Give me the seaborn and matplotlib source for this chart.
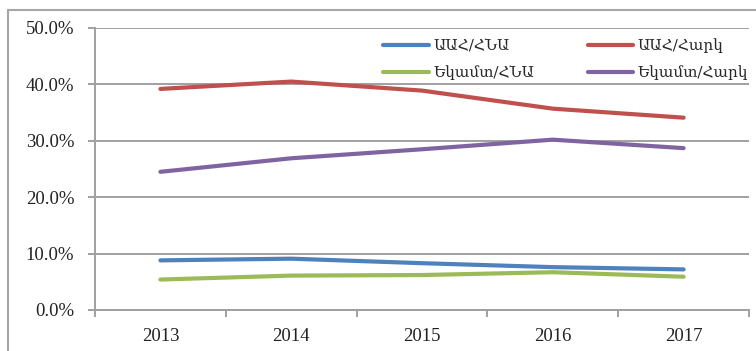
import matplotlib
matplotlib.use("Agg")
import matplotlib.pyplot as plt
from matplotlib.lines import Line2D
from matplotlib.ticker import FixedLocator, PercentFormatter
import seaborn as sns
import pandas as pd

years = ["2013", "2014", "2015", "2016", "2017"]
series_names = ["ԱԱՀ/ՀՆԱ", "ԱԱՀ/Հարկ", "Եկամտ/ՀՆԱ", "Եկամտ/Հարկ"]
vat_gdp = [8.8, 9.1, 8.3, 7.6, 7.2]
vat_tax = [39.2, 40.5, 38.9, 35.7, 34.1]
income_gdp = [5.4, 6.1, 6.2, 6.7, 5.9]
income_tax = [24.5, 26.9, 28.5, 30.2, 28.7]
colors = ["#4F81BD", "#C0504D", "#9BBB59", "#8064A2"]

rows = []
for name, vals in zip(series_names, [vat_gdp, vat_tax, income_gdp, income_tax]):
    for i, (yr, v) in enumerate(zip(years, vals)):
        rows.append({"pos": i, "year": yr, "value": v, "series": name})
df = pd.DataFrame(rows)

sns.set_theme(style="white")
plt.rcParams["font.family"] = ["Liberation Serif", "DejaVu Serif"]

fig = plt.figure(figsize=(7.56, 3.51), dpi=100)
ax = fig.add_axes([95 / 756, 41 / 351, 654 / 756, 282 / 351])

sns.lineplot(data=df, x="pos", y="value", hue="series", hue_order=series_names,
             palette=colors, linewidth=3.0, ax=ax, legend=True,
             solid_capstyle="round")

grid_c = "#A0A0A0"
ax.set_xlim(-0.5, 4.5)
ax.set_ylim(0, 50)
ax.yaxis.set_major_locator(FixedLocator([0, 10, 20, 30, 40, 50]))
ax.yaxis.set_major_formatter(PercentFormatter(decimals=1))
ax.set_xticks(range(len(years)))
ax.set_xticklabels(years)
ax.set_xticks([i - 0.5 for i in range(len(years) + 1)], minor=True)
ax.set_xlabel("")
ax.set_ylabel("")

ax.grid(axis="y", color=grid_c, linewidth=1.4)
ax.set_axisbelow(True)
for side in ["top", "right"]:
    ax.spines[side].set_visible(False)
for side in ["left", "bottom"]:
    ax.spines[side].set_color(grid_c)
    ax.spines[side].set_linewidth(1.4)

ax.tick_params(axis="y", which="major", length=5, width=1.4, color=grid_c,
               direction="out", left=True, pad=10, labelsize=13.5, labelcolor="#222222")
ax.tick_params(axis="x", which="major", length=0, pad=13, labelsize=13.5,
               labelcolor="#222222")
ax.tick_params(axis="x", which="minor", length=5, width=1.4, color=grid_c,
               direction="out", bottom=True)

# legend entries laid out row by row: blue, red / green, purple
handles, labels = ax.get_legend_handles_labels()
order = [0, 2, 1, 3]
leg = ax.legend([handles[i] for i in order], [labels[i] for i in order],
                ncol=2, loc="upper left", bbox_to_anchor=(0.42, 1.012),
                frameon=False, handlelength=3.0,
                columnspacing=3.5, labelspacing=0.8, handletextpad=0.25,
                prop={"family": ["DejaVu Serif"], "size": 11})
for h in leg.get_lines():
    h.set_linewidth(3.0)

# outer frame around the chart (left and top edges)
fig.add_artist(Line2D([7.5 / 756, 7.5 / 756], [0, 1 - 10 / 351],
                      transform=fig.transFigure, color="#A6A6A6", linewidth=1.5))
fig.add_artist(Line2D([7.5 / 756, 1], [1 - 10 / 351, 1 - 10 / 351],
                      transform=fig.transFigure, color="#A6A6A6", linewidth=1.5))

fig.savefig("out.png", dpi=100)
